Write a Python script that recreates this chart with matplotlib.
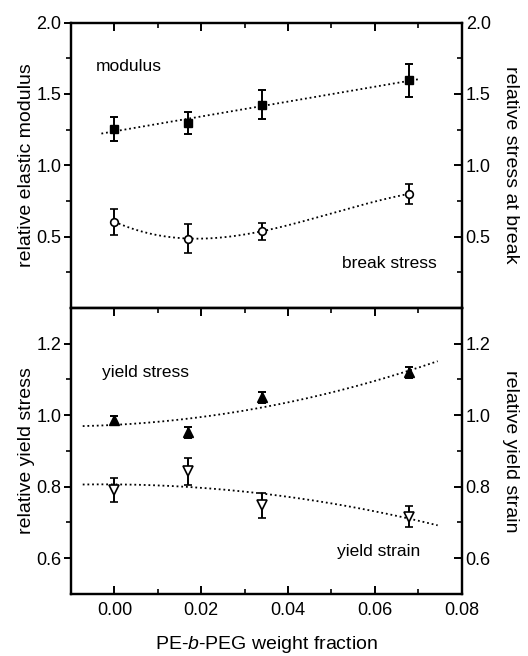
import numpy as np
import matplotlib
matplotlib.use("Agg")
import matplotlib.pyplot as plt

plt.rcParams["font.family"] = ["Liberation Sans", "DejaVu Sans"]
plt.rcParams["mathtext.fontset"] = "custom"
plt.rcParams["mathtext.rm"] = "Liberation Sans"
plt.rcParams["mathtext.it"] = "Liberation Sans:italic"

# PE-b-PEG weight fraction
frac = [0.0, 0.017, 0.034, 0.068]

# upper panel
modulus = [1.255, 1.297, 1.425, 1.595]
modulus_err = [0.084, 0.080, 0.100, 0.117]
break_stress = [0.604, 0.486, 0.537, 0.800]
break_stress_err = [0.090, 0.100, 0.060, 0.070]

# lower panel
yield_stress = [0.987, 0.952, 1.050, 1.120]
yield_stress_err = [0.011, 0.015, 0.015, 0.015]
yield_strain = [0.790, 0.843, 0.748, 0.716]
yield_strain_err = [0.033, 0.038, 0.035, 0.030]

top_ticks = [0.5, 1.0, 1.5, 2.0]
top_minor = [0.25, 0.75, 1.25, 1.75]
bot_ticks = [0.6, 0.8, 1.0, 1.2]
bot_minor = [0.7, 0.9, 1.1]
x_ticks = [0.00, 0.02, 0.04, 0.06, 0.08]
x_minor = [0.01, 0.03, 0.05, 0.07]

fig = plt.figure(figsize=(5.28, 6.56), dpi=100)
left, width = 0.1345, 0.7396
ax_top = fig.add_axes([left, 0.5308, width, 0.4346])
ax_bot = fig.add_axes([left, 0.0945, width, 0.4363])

dot = (0, (1.0, 1.6))
fs_tick = 13
fs_lab = 14
fs_txt = 12.5


def style(ax, ylim, major, minor, ylabel, rlabel, top_ticks_on):
    ax.set_xlim(-0.01, 0.08)
    ax.set_ylim(*ylim)
    ax.set_xticks(x_ticks)
    ax.set_xticks(x_minor, minor=True)
    ax.set_yticks(major)
    ax.set_yticks(minor, minor=True)
    ax.set_yticklabels([f"{v:.1f}" for v in major])
    for s in ax.spines.values():
        s.set_linewidth(1.6)
    ax.tick_params(axis="y", which="major", direction="out", length=5,
                   width=1.4, labelsize=fs_tick, pad=2)
    ax.tick_params(axis="y", which="minor", direction="out", length=3.5,
                   width=1.2)
    ax.tick_params(axis="x", which="major", direction="in", length=6,
                   width=1.4, labelsize=fs_tick, top=top_ticks_on, pad=6)
    ax.tick_params(axis="x", which="minor", direction="in", length=3.5,
                   width=1.2, top=top_ticks_on)
    ax.set_ylabel(ylabel, fontsize=fs_lab, va="center")
    ax.yaxis.set_label_coords(-0.114, 0.5)

    rx = ax.twinx()
    rx.set_ylim(*ylim)
    rx.set_yticks(major)
    rx.set_yticks(minor, minor=True)
    rx.set_yticklabels([f"{v:.1f}" for v in major])
    rx.tick_params(axis="y", which="major", direction="in", length=6,
                   width=1.4, labelsize=fs_tick, pad=3)
    rx.tick_params(axis="y", which="minor", direction="in", length=3.5,
                   width=1.2)
    for s in rx.spines.values():
        s.set_linewidth(1.6)
    rx.set_ylabel(rlabel, fontsize=fs_lab, rotation=270, va="center")
    rx.yaxis.set_label_coords(1.125, 0.5)
    return rx


style(ax_top, (0.0, 2.0), top_ticks, top_minor,
      "relative elastic modulus", "relative stress at break", True)
ax_top.tick_params(axis="x", which="both", bottom=False, labelbottom=False)

style(ax_bot, (0.5, 1.3), bot_ticks, bot_minor,
      "relative yield stress", "relative yield strain", True)
ax_bot.set_xticklabels([f"{v:.2f}" for v in x_ticks])
ax_bot.set_xlabel("PE-$\\mathit{b}$-PEG weight fraction", fontsize=fs_lab,
                  va="center")
ax_bot.xaxis.set_label_coords(0.5, -0.178)

fx = np.array(frac)


def fit_line(ax, y, deg, x0, x1):
    c = np.polyfit(fx, np.array(y), deg)
    xs = np.linspace(x0, x1, 200)
    ax.plot(xs, np.polyval(c, xs), color="black", lw=1.3, ls=dot, zorder=2)


eb = dict(color="black", elinewidth=1.4, capsize=2.8, capthick=1.4,
          ls="none", zorder=3)

# upper panel: modulus and break stress
fit_line(ax_top, modulus, 1, -0.003, 0.0705)
fit_line(ax_top, break_stress, 3, 0.0, 0.068)
ax_top.errorbar(frac, modulus, yerr=modulus_err, marker="s", ms=5.8,
                mfc="black", mec="black", **eb)
ax_top.errorbar(frac, break_stress, yerr=break_stress_err, marker="o",
                ms=5.5, mfc="white", mec="black", mew=1.2, **eb)
ax_top.text(-0.0042, 1.692, "modulus", fontsize=fs_txt, ha="left", va="center")
ax_top.text(0.0525, 0.314, "break stress", fontsize=fs_txt, ha="left",
            va="center")

# lower panel: yield stress and yield strain
fit_line(ax_bot, yield_stress, 2, -0.0073, 0.0745)
fit_line(ax_bot, yield_strain, 2, -0.0073, 0.0745)
ax_bot.errorbar(frac, yield_stress, yerr=yield_stress_err, marker="^",
                ms=6.5, mfc="black", mec="black", **eb)
ax_bot.errorbar(frac, yield_strain, yerr=yield_strain_err, marker="v",
                ms=6.5, mfc="white", mec="black", mew=1.2, **eb)
ax_bot.text(-0.0028, 1.118, "yield stress", fontsize=fs_txt, ha="left",
            va="center")
ax_bot.text(0.0514, 0.618, "yield strain", fontsize=fs_txt, ha="left",
            va="center")

fig.savefig("out.png", dpi=100)
